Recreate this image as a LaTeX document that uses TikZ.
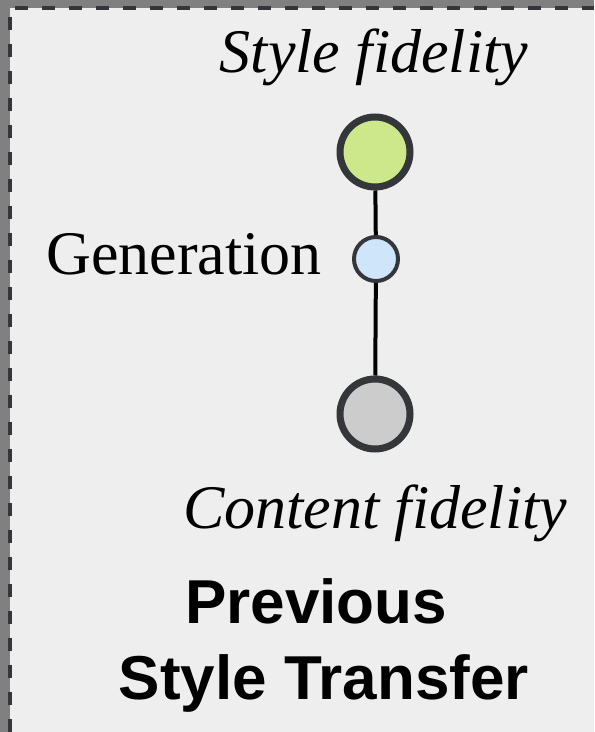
\documentclass[tikz,border=0pt]{standalone}
\usepackage{fontspec}
\setmainfont{Liberation Serif}
\setsansfont{Liberation Sans}
\usepackage{tikz}

\begin{document}
\begin{tikzpicture}[x=0.5pt,y=-0.5pt]
% Colors
\definecolor{frameColor}{RGB}{52,54,58}
\definecolor{panelColor}{RGB}{238,238,238}
\definecolor{outsideColor}{RGB}{128,128,128}
\definecolor{styleColor}{RGB}{205,232,138}
\definecolor{genColor}{RGB}{207,229,250}
\definecolor{contentColor}{RGB}{204,204,204}
\tikzset{
  bigdot/.style={circle, draw=frameColor, line width=3.5pt, minimum size=35pt, inner sep=0pt},
  smalldot/.style={circle, draw=frameColor, line width=2pt, minimum size=22pt, inner sep=0pt},
  label/.style={font=\fontsize{31}{36}\selectfont, anchor=base, inner sep=0pt},
  title/.style={font=\fontsize{31}{36}\selectfont\sffamily\bfseries, anchor=base, inner sep=0pt}
}
\useasboundingbox (0,0) rectangle (594,732);
% Background and Frame
\fill[outsideColor] (0,0) rectangle (594,732);
\fill[panelColor] (10,8) rectangle (594,732);
\draw[frameColor, line width=2.2pt, dash pattern=on 6.5pt off 7pt]
  (10,732) -- (10,8) -- (594,8);
% Axis
\node[bigdot, fill=styleColor] (style) at (375,152) {};
\node[smalldot, fill=genColor] (gen) at (376,259) {};
\node[bigdot, fill=contentColor] (content) at (375,414) {};
\begin{scope}[black, line width=2pt]
	\draw (style) -- (gen);
	\draw (gen) -- (content);
\end{scope}
% Labels
\node[label] (styletext) at (374,73) {\itshape Style fidelity};
\node[label] (gentext) at (184,275) {Generation};
\node[label] (contenttext) at (375,528) {\itshape Content fidelity};
\node[title] (prev) at (316,623) {Previous};
\node[title] (transfer) at (324,699) {Style Transfer};
\end{tikzpicture}
\end{document}
